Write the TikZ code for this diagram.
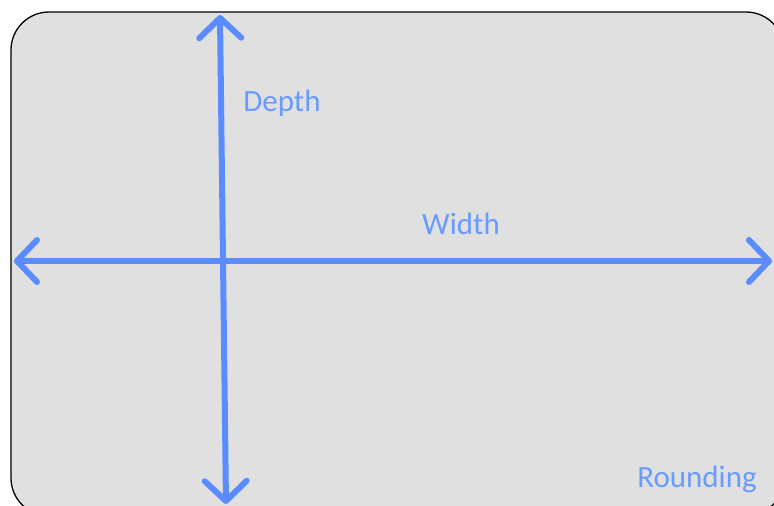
\documentclass[tikz,border=0pt]{standalone}
\usepackage{fontspec}
\setmainfont{Carlito}
\usetikzlibrary{arrows.meta}
\usepackage{xcolor}
\definecolor{axisblue}{RGB}{90,140,255}
\definecolor{labelblue}{RGB}{105,155,255}
\tikzset{
    axis/.style={
        draw=axisblue,
        line width=6pt,
        {Straight Barb[length=20pt,width=42pt,line width=0pt 1,round]}-{Straight Barb[length=20pt,width=42pt,line width=0pt 1,round]}
    },
    dimlabel/.style={
        text=labelblue,
        font=\fontsize{31}{37}\selectfont,
        inner sep=0pt
    }
}

\begin{document}
\begin{tikzpicture}[x=1pt,y=-1pt]
    \useasboundingbox (0,0) rectangle (774,506);
    \clip (0,0) rectangle (774,506);
    \draw[fill=black!12,line width=1.3pt,rounded corners=38pt] (11,12) rectangle (784,516);
    \coordinate (wleft) at (14,261);
    \coordinate (wright) at (772,261);
    \coordinate (dtop) at (220,15);
    \coordinate (dbottom) at (226,504);
    \draw[axis] (wleft) -- (wright);
    \draw[axis] (dtop) -- (dbottom);
    \node[dimlabel] (depth) at (282,103) {Depth};
    \node[dimlabel] (width) at (461,224) {Width};
    \node[dimlabel] (rounding) at (697,479) {Rounding};
\end{tikzpicture}
\end{document}
